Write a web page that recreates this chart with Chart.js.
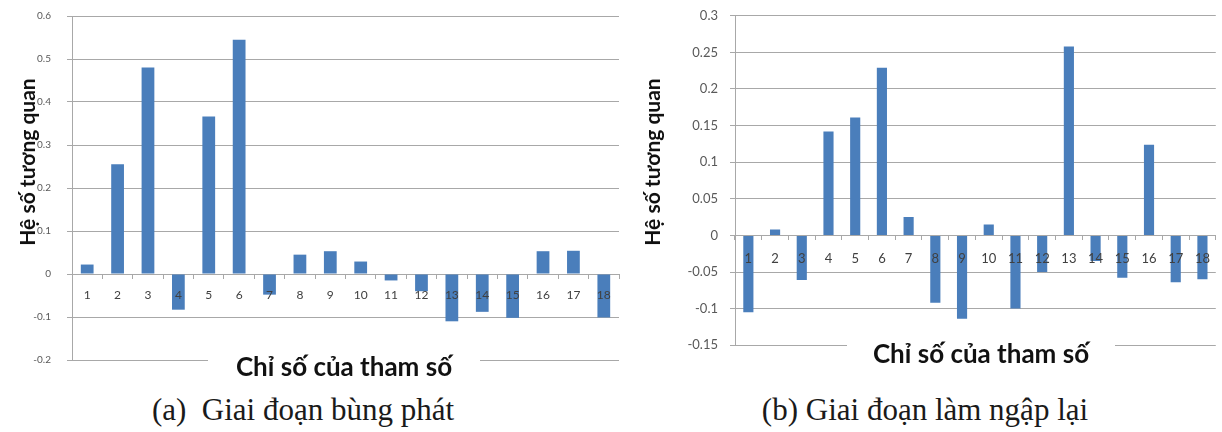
<!DOCTYPE html>
<html>
<head>
<meta charset="utf-8">
<script src="https://cdn.jsdelivr.net/npm/chart.js@4/dist/chart.umd.min.js"></script>
<style>
  body { margin: 0; background: #fff; width: 1222px; height: 432px; position: relative; overflow: hidden; }
  .box { position: absolute; }
  .xtitle { position: absolute; background: #fff; text-align: center;
            font: bold 26px Lato, "Open Sans", sans-serif; color: #111; line-height: 28px; }
  .ytitle { position: absolute; width: 240px; height: 26px; line-height: 26px; text-align: center;
            transform: rotate(-90deg); font: bold 21px Lato, "Open Sans", sans-serif; color: #111; }
  .caption { position: absolute; top: 392px; text-align: center; line-height: 36px;
             font: 31px "Liberation Serif", "Times New Roman", serif; color: #1a1a1a; }
</style>
</head>
<body>
<!-- the y tick padding adds to the plot inset, so the boxes are offset to keep the plots in place -->
<div class="box" style="left:0;top:-6px;width:622px;height:388px"><canvas id="burst"></canvas></div>
<div class="box" style="left:622px;top:-4px;width:600px;height:369px"><canvas id="reflood"></canvas></div>
<div class="ytitle" style="left:-93px;top:149px">Hệ số tương quan</div>
<div class="ytitle" style="left:532px;top:149px">Hệ số tương quan</div>
<div class="xtitle" style="left:208px;top:352px;width:272px">Chỉ số của tham số</div>
<div class="xtitle" style="left:847px;top:339px;width:268px">Chỉ số của tham số</div>
<div class="caption" style="left:80px;width:446px">(a)&nbsp; Giai đoạn bùng phát</div>
<div class="caption" style="left:702px;width:446px">(b) Giai đoạn làm ngập lại</div>
<script>
// parameter index 1..18
const paramLabels = ['1','2','3','4','5','6','7','8','9','10','11','12','13','14','15','16','17','18'];

// correlation coefficients, outbreak phase
const burstValues = [0.022, 0.255, 0.48, -0.083, 0.366, 0.545, -0.048, 0.045, 0.053,
                     0.029, -0.015, -0.04, -0.11, -0.088, -0.102, 0.053, 0.054, -0.101];

// correlation coefficients, reflood phase
const refloodValues = [-0.105, 0.008, -0.061, 0.142, 0.161, 0.229, 0.025, -0.092, -0.114,
                       0.015, -0.1, -0.05, 0.258, -0.035, -0.058, 0.124, -0.064, -0.06];

const burstAxis = { min: -0.2, max: 0.6, step: 0.1 };
const refloodAxis = { min: -0.15, max: 0.3, step: 0.05 };

const barColor = '#4a7ebb';
const gridColor = '#a8a8a8';

function makeChart(id, values, axis, cfg) {
  return new Chart(document.getElementById(id), {
    type: 'bar',
    data: {
      labels: paramLabels,
      datasets: [{
        data: values,
        backgroundColor: barColor,
        borderWidth: 0,
        barPercentage: cfg.barPct,
        categoryPercentage: 1
      }]
    },
    options: {
      responsive: true,
      maintainAspectRatio: false,
      animation: false,
      layout: { padding: cfg.padding },
      plugins: { legend: { display: false }, tooltip: { enabled: false } },
      scales: {
        x: {
          position: { y: 0 },
          offset: true,
          grid: { display: true, drawOnChartArea: false, drawTicks: true, tickLength: 4,
                  offset: true, color: gridColor },
          border: { display: true, color: gridColor },
          ticks: { z: 1, color: '#404040', padding: cfg.xPad, maxRotation: 0, autoSkip: false,
                   font: { family: 'Lato, "Open Sans", sans-serif', size: cfg.xFont } }
        },
        y: {
          min: axis.min,
          max: axis.max,
          afterFit: s => { s.width = cfg.yWidth; },
          grid: { color: gridColor, tickLength: 5 },
          border: { display: true, color: gridColor },
          ticks: {
            stepSize: axis.step,
            padding: cfg.yPad,
            color: '#595959',
            font: { family: 'Lato, "Open Sans", sans-serif', size: cfg.yFont },
            callback: v => String(+v.toFixed(2))
          }
        }
      }
    }
  });
}

makeChart('burst', burstValues, burstAxis, {
  barPct: 0.42, padding: { top: 0, bottom: 0, left: 0, right: 3 },
  yWidth: 72, yPad: 16, yFont: 10, xFont: 12, xPad: 10
});

makeChart('reflood', refloodValues, refloodAxis, {
  barPct: 0.38, padding: { top: 0, bottom: 0, left: 0, right: 1 },
  yWidth: 113, yPad: 12, yFont: 13, xFont: 13, xPad: 12
});
</script>
</body>
</html>
